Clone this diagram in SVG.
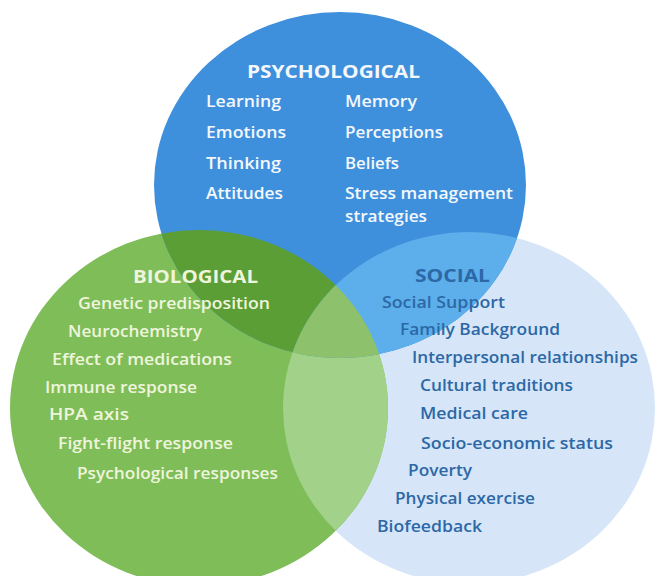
<svg xmlns="http://www.w3.org/2000/svg" width="658" height="576" viewBox="0 0 658 576">
<style>
text{font-family:"Open Sans","Noto Sans","Liberation Sans",sans-serif;font-weight:600;font-size:16.5px}
.h{font-weight:700;font-size:18px}
.pw{fill:#f4f8fc}
.bw{fill:#eef5dc}
.sb{fill:#2d68a6}
</style>
<defs>
<clipPath id="cpB"><ellipse cx="340" cy="185" rx="186" ry="173"/></clipPath>
<clipPath id="cpL"><ellipse cx="469" cy="408" rx="186" ry="176"/></clipPath>
</defs>
<rect width="658" height="576" fill="#ffffff"/>
<g id="shapes">
<g id="social-circle"><ellipse cx="469" cy="408" rx="186" ry="176" fill="#d6e6f8"/></g>
<g id="biological-circle"><ellipse cx="199" cy="408" rx="189" ry="178" fill="#7fbd59"/></g>
<g id="psychological-circle"><ellipse cx="340" cy="185" rx="186" ry="173" fill="#3f90dc"/></g>
<g id="overlaps">
<ellipse cx="199" cy="408" rx="189" ry="178" fill="#a2d189" clip-path="url(#cpL)"/>
<ellipse cx="199" cy="408" rx="189" ry="178" fill="#5c9e36" clip-path="url(#cpB)"/>
<ellipse cx="469" cy="408" rx="186" ry="176" fill="#5cafeb" clip-path="url(#cpB)"/>
<g clip-path="url(#cpL)"><ellipse cx="199" cy="408" rx="189" ry="178" fill="#8dc16b" clip-path="url(#cpB)"/></g>
</g>
</g>
<g id="connectors"/>
<g id="psychological">
<text class="h pw" x="247" y="78" textLength="173" lengthAdjust="spacingAndGlyphs">PSYCHOLOGICAL</text>
<text class="pw" x="206" y="107" textLength="75" lengthAdjust="spacingAndGlyphs">Learning</text>
<text class="pw" x="206" y="138" textLength="80" lengthAdjust="spacingAndGlyphs">Emotions</text>
<text class="pw" x="206" y="169" textLength="75" lengthAdjust="spacingAndGlyphs">Thinking</text>
<text class="pw" x="206" y="199" textLength="77" lengthAdjust="spacingAndGlyphs">Attitudes</text>
<text class="pw" x="345" y="107" textLength="72" lengthAdjust="spacingAndGlyphs">Memory</text>
<text class="pw" x="345" y="138" textLength="98" lengthAdjust="spacingAndGlyphs">Perceptions</text>
<text class="pw" x="345" y="169" textLength="54" lengthAdjust="spacingAndGlyphs">Beliefs</text>
<text class="pw" x="345" y="199" textLength="168" lengthAdjust="spacingAndGlyphs">Stress management</text>
<text class="pw" x="345" y="222" textLength="82" lengthAdjust="spacingAndGlyphs">strategies</text>
</g>
<g id="biological">
<text class="h bw" x="133" y="283" textLength="125" lengthAdjust="spacingAndGlyphs">BIOLOGICAL</text>
<text class="bw" x="78" y="309" textLength="192" lengthAdjust="spacingAndGlyphs">Genetic predisposition</text>
<text class="bw" x="68" y="337" textLength="134" lengthAdjust="spacingAndGlyphs">Neurochemistry</text>
<text class="bw" x="52" y="365" textLength="180" lengthAdjust="spacingAndGlyphs">Effect of medications</text>
<text class="bw" x="45" y="393" textLength="152" lengthAdjust="spacingAndGlyphs">Immune response</text>
<text class="bw" x="49" y="420" textLength="80" lengthAdjust="spacingAndGlyphs">HPA axis</text>
<text class="bw" x="58" y="449" textLength="175" lengthAdjust="spacingAndGlyphs">Fight-flight response</text>
<text class="bw" x="77" y="479" textLength="201" lengthAdjust="spacingAndGlyphs">Psychological responses</text>
</g>
<g id="social">
<text class="h sb" x="415" y="282" textLength="75" lengthAdjust="spacingAndGlyphs">SOCIAL</text>
<text class="sb" x="382" y="308" textLength="123" lengthAdjust="spacingAndGlyphs">Social Support</text>
<text class="sb" x="400" y="335" textLength="160" lengthAdjust="spacingAndGlyphs">Family Background</text>
<text class="sb" x="412" y="363" textLength="226" lengthAdjust="spacingAndGlyphs">Interpersonal relationships</text>
<text class="sb" x="420" y="391" textLength="153" lengthAdjust="spacingAndGlyphs">Cultural traditions</text>
<text class="sb" x="420" y="419" textLength="108" lengthAdjust="spacingAndGlyphs">Medical care</text>
<text class="sb" x="421" y="449" textLength="192" lengthAdjust="spacingAndGlyphs">Socio-economic status</text>
<text class="sb" x="408" y="476" textLength="64" lengthAdjust="spacingAndGlyphs">Poverty</text>
<text class="sb" x="395" y="504" textLength="140" lengthAdjust="spacingAndGlyphs">Physical exercise</text>
<text class="sb" x="377" y="532" textLength="105" lengthAdjust="spacingAndGlyphs">Biofeedback</text>
</g>
</svg>
